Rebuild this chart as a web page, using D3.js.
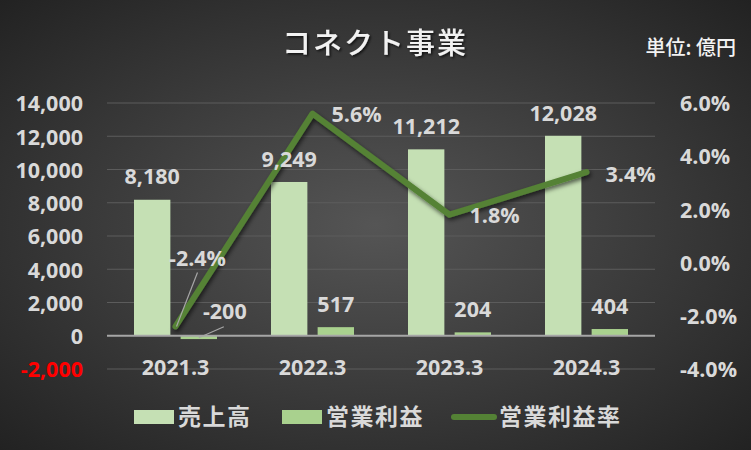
<!DOCTYPE html>
<html><head><meta charset="utf-8">
<script src="https://cdn.jsdelivr.net/npm/d3@7"></script>
<style>body{margin:0;background:#333}svg{display:block}</style>
</head><body>
<svg id="c" width="751" height="450"></svg>
<script>
const categories = ["2021.3","2022.3","2023.3","2024.3"];
const sales = [8180, 9249, 11212, 12028];
const profit = [-200, 517, 204, 404];
const margin = [-2.4, 5.6, 1.8, 3.4];
const leftTicks = [-2000,0,2000,4000,6000,8000,10000,12000,14000];
const rightTicks = [-4,-2,0,2,4,6];

const svg = d3.select("#c");
const W=751,H=450;
const defs = svg.append("defs");
const rg = defs.append("radialGradient").attr("id","bg").attr("cx","50%").attr("cy","50%").attr("r","75%");
rg.append("stop").attr("offset","0%").attr("stop-color","#555555");
rg.append("stop").attr("offset","100%").attr("stop-color","#1f1f1f");
const f = defs.append("filter").attr("id","sh").attr("x","-20%").attr("y","-20%").attr("width","140%").attr("height","140%");
f.append("feDropShadow").attr("dx",1.5).attr("dy",2.5).attr("stdDeviation",2).attr("flood-color","#000").attr("flood-opacity",0.6);
const ts = defs.append("filter").attr("id","tsh");
ts.append("feDropShadow").attr("dx",1.5).attr("dy",1.5).attr("stdDeviation",1).attr("flood-color","#000").attr("flood-opacity",0.7);

svg.append("rect").attr("width",W).attr("height",H).attr("fill","url(#bg)");

const font = "'Open Sans','Noto Sans CJK JP',sans-serif";
const jfont = "'Noto Sans CJK JP',sans-serif";
const txt = "#d9d9d9";
const FS = 21.5;
const nf = v=>d3.format(",")(v).replace("\u2212","-");

const x0 = d3.scaleBand().domain(categories).range([107,655]);
const x1 = d3.scaleBand().domain(["s","p"]).range([27,110]).paddingInner(0.22);
const y = d3.scaleLinear().domain([-2000,14000]).range([369,103]);
const y2 = d3.scaleLinear().domain([-4,6]).range([369,103]);

// gridlines
svg.append("g").selectAll("line").data(leftTicks.filter(d=>d!==0)).join("line")
  .attr("x1",107).attr("x2",655).attr("y1",d=>y(d)).attr("y2",d=>y(d))
  .attr("stroke","#5c5c5c").attr("stroke-width",1);

// left axis
const la = svg.append("g").attr("transform","translate(83,0)")
  .call(d3.axisLeft(y).tickValues(leftTicks).tickSize(0).tickPadding(0).tickFormat(nf));
la.select(".domain").remove();
la.selectAll("text").attr("font-family",font).attr("font-weight",700).attr("font-size",FS)
  .attr("fill",d=>d<0?"#ff0000":txt).attr("dy","0.36em");

// right axis
const ra = svg.append("g").attr("transform","translate(680,0)")
  .call(d3.axisRight(y2).tickValues(rightTicks).tickSize(0).tickPadding(0).tickFormat(d=>d.toFixed(1)+"%"));
ra.select(".domain").remove();
ra.selectAll("text").attr("font-family",font).attr("font-weight",700).attr("font-size",FS)
  .attr("fill",txt).attr("dy","0.36em");

// bars
const g = svg.append("g");
g.selectAll(".s").data(categories).join("rect")
  .attr("x",(d)=>x0(d)+x1("s")).attr("width",x1.bandwidth())
  .attr("y",(d,i)=>y(Math.max(0,sales[i]))).attr("height",(d,i)=>Math.abs(y(sales[i])-y(0)))
  .attr("fill","#c5e0b4");
g.selectAll(".p").data(categories).join("rect")
  .attr("x",(d)=>x0(d)+x1("p")).attr("width",x1.bandwidth())
  .attr("y",(d,i)=>y(Math.max(0,profit[i]))).attr("height",(d,i)=>Math.abs(y(profit[i])-y(0)))
  .attr("fill","#a9d18e");

// zero line
svg.append("line").attr("x1",107).attr("x2",655).attr("y1",y(0)).attr("y2",y(0))
  .attr("stroke","#a6a6a6").attr("stroke-width",2);

// x labels
const xa = svg.append("g").attr("transform","translate(0,367)")
  .call(d3.axisBottom(x0).tickSize(0).tickPadding(0));
xa.select(".domain").remove();
xa.selectAll("text").attr("font-family",font).attr("font-weight",700).attr("font-size",FS)
  .attr("fill",txt).attr("dy","0.36em");

// line
const cx = d=>x0(d)+x0.bandwidth()/2;
svg.append("path").datum(categories)
  .attr("d",d3.line().x(d=>cx(d)).y((d,i)=>y2(margin[i])))
  .attr("fill","none").attr("stroke","#548235").attr("stroke-width",6).attr("stroke-linecap","round")
  .attr("stroke-linejoin","round").attr("filter","url(#sh)");

const lab = (x,yy,t)=>svg.append("text").attr("x",x).attr("y",yy).attr("text-anchor","middle")
  .attr("dy","0.36em").attr("font-family",font).attr("font-weight",700).attr("font-size",FS)
  .attr("fill",txt).text(t);

// sales labels
categories.forEach((c,i)=>lab(x0(c)+x1("s")+x1.bandwidth()/2, y(sales[i])-23, nf(sales[i])));
// profit labels
categories.forEach((c,i)=>{
  const bx = x0(c)+x1("p")+x1.bandwidth()/2;
  if(profit[i]<0){
    lab(bx+26, y(0)-24, nf(profit[i]));
    svg.append("line").attr("x1",bx).attr("y1",y(0)+2).attr("x2",bx+25).attr("y2",y(0)-9)
      .attr("stroke","#a6a6a6").attr("stroke-width",1.2);
  } else lab(bx, y(Math.max(0,profit[i]))-23, nf(profit[i]));
});
// margin labels
const fm = v=>v.toFixed(1)+"%";
lab(cx(categories[0])+22, y2(margin[0])-68, fm(margin[0]));
svg.append("line").attr("x1",cx(categories[0])+1).attr("y1",y2(margin[0])).attr("x2",cx(categories[0])+22).attr("y2",y2(margin[0])-54)
  .attr("stroke","#a6a6a6").attr("stroke-width",1.2);
lab(cx(categories[1])+44, y2(margin[1])+1, fm(margin[1]));
lab(cx(categories[2])+45, y2(margin[2])+1, fm(margin[2]));
lab(cx(categories[3])+44, y2(margin[3])+2, fm(margin[3]));

// title
svg.append("text").attr("x",375).attr("y",44).attr("text-anchor","middle").attr("dy","0.36em")
  .attr("font-family",jfont).attr("font-weight",500).attr("font-size",29).attr("letter-spacing",2)
  .attr("fill","#f2f2f2").attr("filter","url(#tsh)").text("コネクト事業");
svg.append("text").attr("x",736).attr("y",48).attr("text-anchor","end").attr("dy","0.36em")
  .attr("font-family",jfont).attr("font-weight",500).attr("font-size",20)
  .attr("fill","#f2f2f2").text("単位: 億円");

// legend
const lg = svg.append("g");
const ly = 417;
lg.append("rect").attr("x",134).attr("y",ly-7).attr("width",40).attr("height",14).attr("fill","#c5e0b4");
lg.append("rect").attr("x",282).attr("y",ly-7).attr("width",40).attr("height",14).attr("fill","#a9d18e");
lg.append("line").attr("x1",454).attr("x2",494).attr("y1",ly).attr("y2",ly).attr("stroke","#548235").attr("stroke-width",6).attr("stroke-linecap","round");
[["売上高",178],["営業利益",326],["営業利益率",499]].forEach(([t,x])=>{
  lg.append("text").attr("x",x).attr("y",ly).attr("dy","0.36em").attr("font-family",jfont)
    .attr("font-weight",700).attr("font-size",23).attr("letter-spacing",1.5).attr("fill",txt).text(t);
});
</script>
</body></html>
